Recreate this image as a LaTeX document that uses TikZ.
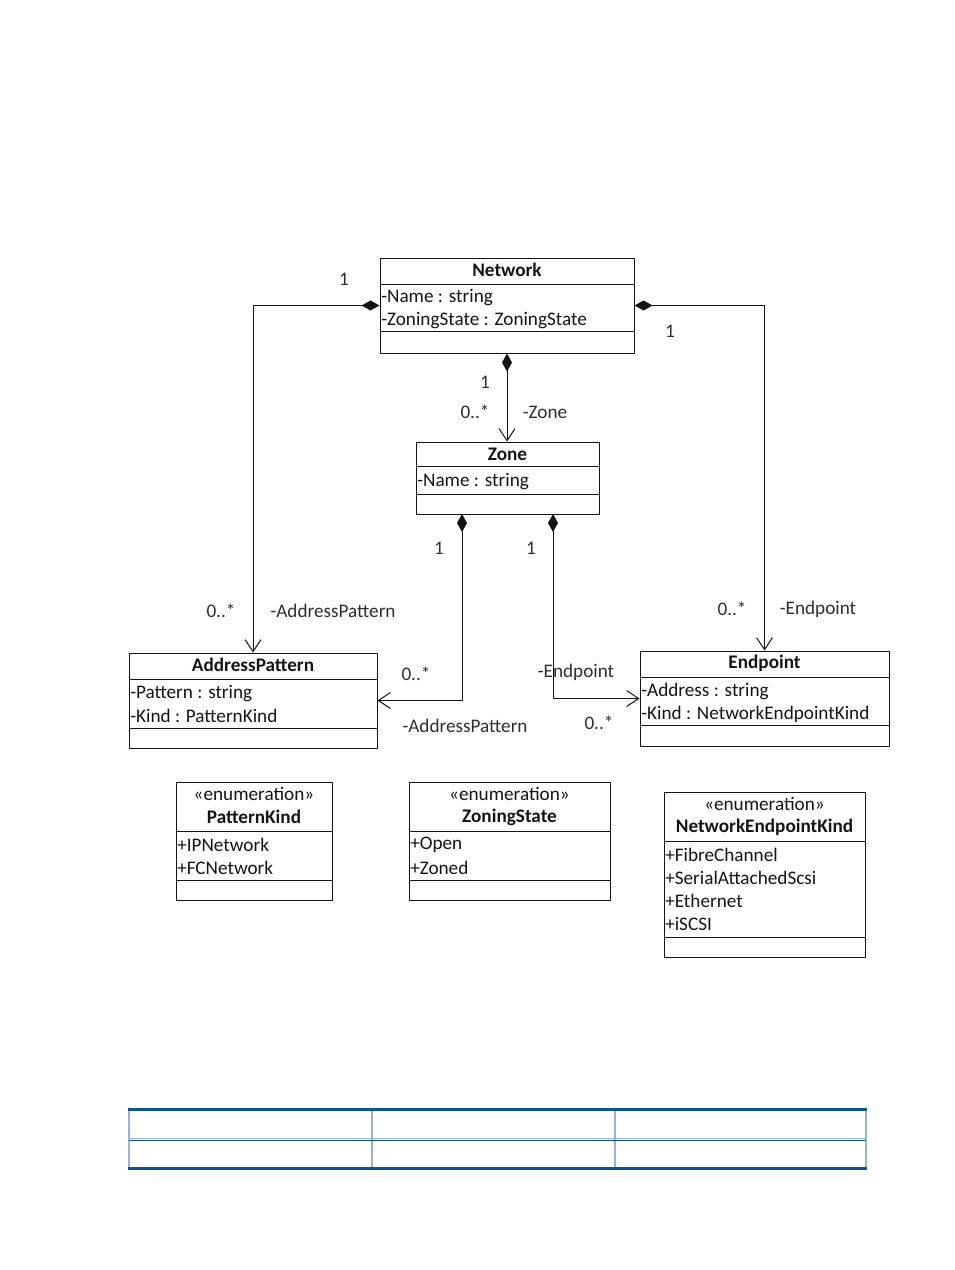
\documentclass[tikz,border=0pt]{standalone}
\usepackage{fontspec}
\setmainfont{Carlito}
\usetikzlibrary{arrows.meta}
\newcommand{\Px}{0.75pt}
\newcommand{\Edge}{0.75pt}
\newcommand{\Size}{\fontsize{14.4}{16}\selectfont}
\definecolor{ink}{HTML}{141414}
\definecolor{txt}{HTML}{141414}
\definecolor{lbl}{HTML}{2E2E2E}
\definecolor{tabledark}{HTML}{0B5394}
\definecolor{tablelight}{HTML}{95B3D7}

\tikzset{
  classbox/.style={draw=ink, line width=\Edge, inner sep=0pt},
  classname/.style={font=\bfseries\Size, text=txt, inner sep=0pt},
  stereo/.style={font=\Size, text=txt, inner sep=0pt},
  member/.style={font=\Size, text=txt, anchor=west, inner sep=0pt, yshift=-1.5pt},
  mult/.style={font=\Size, text=lbl, inner sep=0pt},
  comp/.style={draw=ink, line width=\Edge,
    {Diamond[length=18*\Px, width=10*\Px]}-{Straight Barb[length=9pt, width=12pt, line width=\Edge]}},
}

\begin{document}
\begin{tikzpicture}[x=\Px, y=-\Px, line join=round]

  \useasboundingbox (0,0) rectangle (954,1270);

  % ---- classes ------------------------------------------------------------
  \node[classbox, minimum width=254*\Px, minimum height=95*\Px] (net)  at (507,305.5) {};
  \node[classbox, minimum width=183*\Px, minimum height=72*\Px] (zone) at (507.5,478) {};
  \node[classbox, minimum width=248*\Px, minimum height=95*\Px] (addr) at (253,700.5) {};
  \node[classbox, minimum width=249*\Px, minimum height=95*\Px] (endp) at (764.5,698.5) {};

  \node[classname] (netT)  at (507,270)   {Network};
  \node[member]    (netA1) at (381,296)   {-Name : string};
  \node[member]    (netA2) at (381,319)   {-ZoningState : ZoningState};
  \node[classname] (zoneT) at (507.5,454) {Zone};
  \node[member]    (zoneA1) at (417,480)  {-Name : string};
  \node[classname] (addrT) at (253,665)   {AddressPattern};
  \node[member]    (addrA1) at (130,692)  {-Pattern : string};
  \node[member]    (addrA2) at (130,714)  {-Kind : PatternKind};
  \node[classname] (endpT) at (764.5,663) {Endpoint};
  \node[member]    (endpA1) at (641,689)  {-Address : string};
  \node[member]    (endpA2) at (641,712)  {-Kind : NetworkEndpointKind};

  % ---- enumerations -------------------------------------------------------
  \node[classbox, minimum width=156*\Px, minimum height=118*\Px] (pkind)  at (254,841) {};
  \node[classbox, minimum width=201*\Px, minimum height=118*\Px] (zstate) at (509.5,841) {};
  \node[classbox, minimum width=201*\Px, minimum height=165*\Px] (ekind)  at (764.5,874.5) {};

  \node[stereo]    (pkindS) at (254,794)   {«enumeration»};
  \node[classname] (pkindT) at (254,817)   {PatternKind};
  \node[member]    (pkind1) at (177,843)   {+IPNetwork};
  \node[member]    (pkind2) at (177,866)   {+FCNetwork};
  \node[stereo]    (zstateS) at (509.5,794) {«enumeration»};
  \node[classname] (zstateT) at (509.5,817) {ZoningState};
  \node[member]    (zstate1) at (410,843)  {+Open};
  \node[member]    (zstate2) at (410,866)  {+Zoned};
  \node[stereo]    (ekindS) at (764.5,804) {«enumeration»};
  \node[classname] (ekindT) at (764.5,827) {NetworkEndpointKind};
  \node[member]    (ekind1) at (665,853)   {+FibreChannel};
  \node[member]    (ekind2) at (665,876)   {+SerialAttachedScsi};
  \node[member]    (ekind3) at (665,899)   {+Ethernet};
  \node[member]    (ekind4) at (665,922)   {+iSCSI};

  % compartment rules, left/right/y
  \foreach \a/\b/\y in {380/634/284, 380/634/331, 416/599/466, 416/599/494,
                        129/377/679, 129/377/728, 640/889/677, 640/889/725,
                        176/332/831, 176/332/880, 409/610/831, 409/610/880,
                        664/865/841, 664/865/937} {
    \draw[ink, line width=\Edge] (\a,\y) -- (\b,\y);
  }

  % ---- compositions -------------------------------------------------------
  \coordinate (zoneL) at (462,514);
  \coordinate (zoneR) at (553,514);

  \draw[comp] (net.west) -- (net.west -| addr.north) -- (addr.north);
  \draw[comp] (net.east) -- (net.east -| endp.north) -- (endp.north);
  \draw[comp] (net.south) -- (net.south |- zone.north);
  \draw[comp] (zoneL) -- (zoneL |- addr.east) -- (addr.east);
  \draw[comp] (zoneR) -- (zoneR |- endp.west) -- (endp.west);

  % ---- role names and multiplicities --------------------------------------
  \node[mult] (m1)  at (344,279)   {1};
  \node[mult] (m2)  at (221,611)   {0..*};
  \node[mult] (r1)  at (333,611)   {-AddressPattern};
  \node[mult] (m3)  at (670,331)   {1};
  \node[mult] (m4)  at (732,609)   {0..*};
  \node[mult] (r2)  at (818,609)   {-Endpoint};
  \node[mult] (m5)  at (485,382)   {1};
  \node[mult] (m6)  at (475,412)   {0..*};
  \node[mult] (r3)  at (545,412)   {-Zone};
  \node[mult] (m7)  at (439,548)   {1};
  \node[mult] (m8)  at (416,674)   {0..*};
  \node[mult] (r4)  at (465,726)   {-AddressPattern};
  \node[mult] (m9)  at (531,548)   {1};
  \node[mult] (r5)  at (576,672)   {-Endpoint};
  \node[mult] (m10) at (599,723)   {0..*};

  % ---- empty table at the foot --------------------------------------------
  \foreach \x in {129,372,615,866} {
    \draw[tablelight, line width=1.2pt] (\x,1109) -- (\x,1169);
  }
  \draw[tablelight, line width=\Edge] (129,1138) -- (866,1138);
  \draw[tabledark, line width=1.3pt] (129,1140.5) -- (866,1140.5);
  \draw[tabledark, line width=2.6pt] (128,1109.5) -- (867,1109.5);
  \draw[tabledark, line width=2.6pt] (128,1168.5) -- (867,1168.5);

\end{tikzpicture}
\end{document}
